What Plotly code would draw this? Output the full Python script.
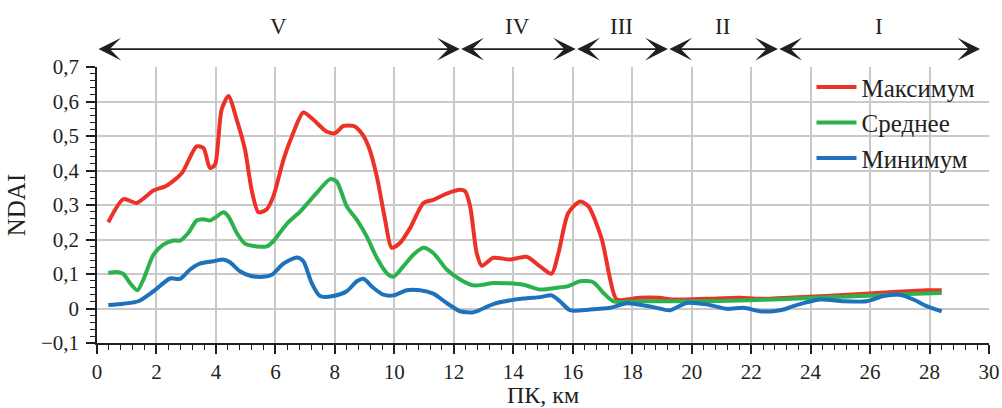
import plotly.graph_objects as go

# ---- data ----
max_x = [0.38,0.89,1.33,1.9,2.34,2.85,3.35,3.58,3.8,3.97,4.08,4.19,4.42,4.7,4.98,5.2,5.43,5.71,5.93,6.27,6.55,6.94,7.28,7.72,8.0,8.29,8.62,8.9,9.13,9.41,9.69,9.91,10.19,10.53,10.98,11.31,11.76,12.21,12.38,12.55,12.77,12.94,13.33,13.89,14.45,14.9,15.29,15.52,15.85,16.25,16.53,16.98,17.26,17.48,18.26,18.9,19.39,20.5,21.6,22.3,23.4,24.5,25.7,26.8,27.9,28.41]
max_y = [0.25,0.317,0.306,0.342,0.356,0.392,0.47,0.465,0.407,0.417,0.49,0.576,0.616,0.547,0.46,0.344,0.279,0.288,0.325,0.431,0.498,0.568,0.547,0.513,0.508,0.529,0.529,0.508,0.47,0.383,0.257,0.176,0.19,0.233,0.306,0.315,0.333,0.344,0.34,0.296,0.161,0.124,0.147,0.142,0.15,0.122,0.101,0.161,0.277,0.31,0.296,0.2,0.084,0.026,0.031,0.031,0.026,0.028,0.031,0.028,0.032,0.036,0.042,0.048,0.053,0.053]

mean_x = [0.38,0.66,0.89,1.11,1.36,1.56,1.9,2.23,2.57,2.79,3.07,3.35,3.58,3.8,4.03,4.25,4.42,4.7,4.98,5.37,5.71,5.93,6.38,6.83,7.39,7.84,8.06,8.4,8.74,9.07,9.41,9.74,9.97,10.3,10.64,10.98,11.31,11.76,12.21,12.66,12.99,13.33,14.34,14.9,15.46,15.85,16.25,16.69,17.03,17.37,18.26,20.5,22.75,24.99,25.67,27.0,28.41]
mean_y = [0.103,0.106,0.1,0.074,0.053,0.084,0.156,0.185,0.197,0.197,0.219,0.255,0.259,0.255,0.267,0.279,0.267,0.219,0.188,0.18,0.18,0.195,0.245,0.281,0.335,0.375,0.368,0.296,0.257,0.209,0.147,0.103,0.092,0.122,0.156,0.176,0.161,0.113,0.084,0.067,0.069,0.074,0.069,0.055,0.06,0.065,0.079,0.076,0.045,0.021,0.021,0.021,0.026,0.034,0.036,0.041,0.045]

min_x = [0.38,0.89,1.39,1.9,2.46,2.79,3.13,3.46,3.91,4.25,4.47,4.81,5.15,5.59,5.88,6.27,6.72,6.94,7.22,7.5,7.94,8.4,8.74,8.96,9.29,9.63,9.97,10.42,10.86,11.31,11.76,12.21,12.66,13.16,13.44,14.34,14.9,15.29,15.57,15.91,16.58,17.26,17.82,18.71,19.27,19.83,20.5,21.18,21.74,22.3,22.75,23.09,23.42,24.32,25.1,25.89,26.45,27.0,27.46,27.9,28.41]
min_y = [0.01,0.014,0.021,0.05,0.087,0.086,0.113,0.13,0.137,0.142,0.134,0.108,0.095,0.092,0.098,0.13,0.148,0.137,0.074,0.036,0.036,0.05,0.079,0.086,0.06,0.04,0.038,0.053,0.053,0.043,0.016,-0.008,-0.011,0.007,0.016,0.029,0.033,0.038,0.021,-0.005,-0.003,0.002,0.015,0.004,-0.005,0.016,0.012,-0.001,0.002,-0.008,-0.008,-0.003,0.007,0.026,0.021,0.021,0.036,0.04,0.026,0.007,-0.008]

series_names = ["Максимум", "Среднее", "Минимум"]
series_colors = ["#ec3127", "#2bb24c", "#1d72bb"]

zone_labels = ["V", "IV", "III", "II", "I"]
zone_bounds = [0, 12.2, 16.1, 19.2, 22.9, 29.7]

FONT = "Liberation Serif, Times New Roman, DejaVu Serif, serif"
INK = "#231f20"

fig = go.Figure()
for name, xs, ys, col in zip(series_names, [max_x, mean_x, min_x], [max_y, mean_y, min_y], series_colors):
    fig.add_trace(go.Scatter(x=xs, y=ys, mode="lines", name=name, legendgroup=name,
                             line=dict(color=col, width=4, shape="spline", smoothing=0.7)))

arrow_py = 1.065   # paper y of the zone arrows
label_py = 1.145   # paper y of the zone labels
for i, lab in enumerate(zone_labels):
    a, b = zone_bounds[i], zone_bounds[i + 1]
    fig.add_annotation(x=b, y=arrow_py, xref="x", yref="paper", ax=a, ay=0, axref="x", ayref="pixel",
                       text="", showarrow=True, arrowhead=3, startarrowhead=3, arrowside="end+start",
                       arrowsize=2.1, startarrowsize=2.1, arrowwidth=1.8, arrowcolor=INK,
                       standoff=0, startstandoff=0)
    fig.add_annotation(x=(a + b) / 2, y=label_py, xref="x", yref="paper", yanchor="middle",
                       text=lab, showarrow=False,
                       font=dict(family=FONT, size=23, color=INK))

axis_common = dict(showline=True, linecolor=INK, linewidth=1.5, ticks="outside",
                   tickcolor=INK, tickwidth=1.5, ticklen=9, showgrid=True,
                   gridcolor="#c9c9c9", gridwidth=1.5, zeroline=False, automargin=False,
                   tickfont=dict(family=FONT, size=21, color=INK))

fig.update_layout(
    width=1002, height=408,
    margin=dict(l=97, r=13, t=67, b=65),
    paper_bgcolor="white", plot_bgcolor="white",
    font=dict(family=FONT, color=INK),
    separators=", ",
    showlegend=True,
    legend=dict(x=0.801, y=1.01, xanchor="left", yanchor="top", bgcolor="rgba(0,0,0,0)",
                font=dict(family=FONT, size=25, color=INK), tracegroupgap=0, itemwidth=40),
    xaxis=dict(range=[0, 30], dtick=2, tick0=0,
               minor=dict(dtick=0.4, tick0=0, ticks="outside", ticklen=5, tickcolor=INK, tickwidth=1.2, showgrid=False),
               title=dict(text="ПК, км", font=dict(family=FONT, size=24, color=INK), standoff=2),
               **axis_common),
    yaxis=dict(range=[-0.1, 0.7], dtick=0.1, tick0=0,
               minor=dict(dtick=0.02, tick0=0, ticks="outside", ticklen=5, tickcolor=INK, tickwidth=1.2, showgrid=False),
               title=dict(text="NDAI", font=dict(family=FONT, size=25, color=INK), standoff=8),
               ticklabelstandoff=3,
               **axis_common),
)

fig.write_html("out.html", post_script="document.body.style.margin='0';",
               config={"displayModeBar": False})
